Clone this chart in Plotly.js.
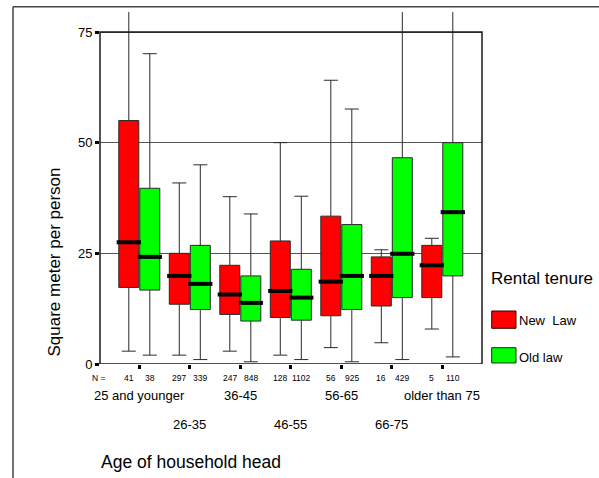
<!DOCTYPE html>
<html>
<head>
<meta charset="utf-8">
<script src="https://cdn.plot.ly/plotly-3.0.1.min.js"></script>
<style>
html,body{margin:0;padding:0;background:#fff;}
#chart{width:599px;height:478px;}
</style>
</head>
<body>
<div id="chart"></div>
<script>
// ---- data ----
const categories = ['25 and younger','26-35','36-45','46-55','56-65','66-75','older than 75'];
const nNew = [41, 297, 247, 128, 56, 16, 5];
const nOld = [38, 339, 848, 1102, 925, 429, 110];

const newQ1     = [17.3, 13.5, 11.2, 10.5, 10.9, 13.1, 15.0];
const newMedian = [27.5, 19.9, 15.7, 16.5, 18.6, 19.9, 22.3];
const newQ3     = [55.0, 25.0, 22.3, 27.8, 33.4, 24.2, 26.8];
const newLower  = [2.9, 2.0, 2.9, 2.0, 3.7, 4.8, 7.9];
const newUpper  = [85, 40.9, 37.8, 50.0, 64.1, 25.8, 28.4];

const oldQ1     = [16.7, 12.3, 9.7, 9.9, 12.3, 15.0, 19.9];
const oldMedian = [24.2, 18.1, 13.8, 15.0, 19.9, 24.9, 34.3];
const oldQ3     = [39.7, 26.8, 19.9, 21.4, 31.5, 46.6, 50.0];
const oldLower  = [2.0, 1.0, 0.5, 1.0, 0.5, 1.0, 1.6];
const oldUpper  = [70.1, 45.0, 33.9, 37.9, 57.6, 85, 85];

const yTicks = [0, 25, 50, 75];

// ---- layout helpers ----
const FONT = 'Liberation Sans, Arial, sans-serif';
const idx = categories.map((c, i) => i);
const OFF = 0.208, BW = 0.396, MHW = 0.24;
const xNew = idx.map(i => i - OFF);
const xOld = idx.map(i => i + OFF);

function boxTrace(name, xs, q1, med, q3, lo, hi, fill) {
  return {
    type: 'box', name: name, x: xs, q1: q1, median: med, q3: q3,
    lowerfence: lo, upperfence: hi, width: BW, whiskerwidth: 0.7,
    fillcolor: fill, line: {color: '#2a2a2a', width: 1},
    boxpoints: false, hoverinfo: 'skip', showlegend: false
  };
}
function medianTrace(xs, med) {
  const x = [], y = [];
  xs.forEach((xv, i) => { x.push(xv - MHW, xv + MHW, null); y.push(med[i], med[i], null); });
  return {type: 'scatter', mode: 'lines', x: x, y: y, line: {color: '#000', width: 4},
          hoverinfo: 'skip', showlegend: false};
}

const traces = [
  boxTrace('New  Law', xNew, newQ1, newMedian, newQ3, newLower, newUpper, '#ff0000'),
  boxTrace('Old law', xOld, oldQ1, oldMedian, oldQ3, oldLower, oldUpper, '#00ff00'),
  medianTrace(xNew, newMedian),
  medianTrace(xOld, oldMedian)
];

const annotations = [];
// N row
annotations.push({x: -0.002, xref: 'paper', y: -0.0406, yref: 'paper', text: 'N =',
  showarrow: false, xanchor: 'center', yanchor: 'middle', font: {family: FONT, size: 8.5, color: '#000'}});
idx.forEach(i => {
  annotations.push({x: xNew[i], xref: 'x', y: -0.0406, yref: 'paper', text: String(nNew[i]),
    showarrow: false, xanchor: 'center', yanchor: 'middle', font: {family: FONT, size: 8.5, color: '#000'}});
  annotations.push({x: xOld[i], xref: 'x', y: -0.0406, yref: 'paper', text: String(nOld[i]),
    showarrow: false, xanchor: 'center', yanchor: 'middle', font: {family: FONT, size: 8.5, color: '#000'}});
});
// staggered category labels
categories.forEach((c, i) => {
  annotations.push({x: i, xref: 'x', y: (i % 2 === 0) ? -0.0909 : -0.1705, yref: 'paper', text: c,
    showarrow: false, xanchor: 'center', yanchor: 'middle', font: {family: FONT, size: 13, color: '#000'}});
});
// axis titles
annotations.push({x: 0.238, xref: 'paper', y: -0.2776, yref: 'paper', text: 'Age of household head',
  showarrow: false, xanchor: 'center', yanchor: 'middle', font: {family: FONT, size: 17.5, color: '#000'}});
annotations.push({x: -0.1191, xref: 'paper', y: 0.2898, yref: 'paper', text: 'Square meter per person',
  textangle: -90, showarrow: false, xanchor: 'center', yanchor: 'middle', font: {family: FONT, size: 17, color: '#000'}});
// legend
annotations.push({x: 1.0183, xref: 'paper', y: 0.2443, yref: 'paper', text: 'Rental tenure',
  showarrow: false, xanchor: 'left', yanchor: 'middle', font: {family: FONT, size: 17, color: '#000'}});
annotations.push({x: 1.0976, xref: 'paper', y: 0.1222, yref: 'paper', text: 'New  Law',
  showarrow: false, xanchor: 'left', yanchor: 'middle', xshift: -2, font: {family: FONT, size: 13, color: '#000'}});
annotations.push({x: 1.0976, xref: 'paper', y: 0.019, yref: 'paper', text: 'Old law',
  showarrow: false, xanchor: 'left', yanchor: 'middle', xshift: -2, font: {family: FONT, size: 13, color: '#000'}});

const shapes = [
  // plot frame 0..75
  {type: 'rect', xref: 'paper', x0: 0, x1: 1, yref: 'y', y0: 0, y1: 75,
   line: {color: '#1a1a1a', width: 1.5}, layer: 'above'},
  // outer frame (top and left)
  {type: 'line', xref: 'paper', yref: 'paper', x0: -0.2277, x1: -0.2277, y0: -0.33, y1: 1.015,
   line: {color: '#444', width: 1.5}},
  {type: 'line', xref: 'paper', yref: 'paper', x0: -0.2277, x1: 1.31, y0: 1.015, y1: 1.015,
   line: {color: '#444', width: 1.5}},
  // legend swatches
  {type: 'rect', xref: 'paper', yref: 'paper', x0: 1.0254, x1: 1.0890, y0: 0.1014, y1: 0.1506,
   fillcolor: '#ff0000', line: {color: '#3a0000', width: 1}},
  {type: 'rect', xref: 'paper', yref: 'paper', x0: 1.0254, x1: 1.0890, y0: 0.0030, y1: 0.0463,
   fillcolor: '#00ff00', line: {color: '#003a00', width: 1}}
];

const layout = {
  width: 599, height: 478,
  margin: {l: 100, r: 117, t: 12, b: 114, pad: 0},
  paper_bgcolor: '#fff', plot_bgcolor: '#fff',
  font: {family: FONT, color: '#000'},
  showlegend: false,
  boxmode: 'overlay',
  xaxis: {
    range: [-0.778, 6.786], tickvals: idx, showticklabels: false,
    ticks: 'outside', ticklen: 4, tickwidth: 3, tickcolor: '#000',
    showgrid: false, zeroline: false, showline: false, fixedrange: true
  },
  yaxis: {
    range: [0, 79.52], tickvals: yTicks, ticktext: yTicks.map(String),
    ticks: 'outside', ticklen: 4, tickwidth: 3, tickcolor: '#000',
    tickfont: {family: FONT, size: 13, color: '#000'},
    showgrid: true, gridcolor: '#555', gridwidth: 1,
    zeroline: false, showline: false, fixedrange: true
  },
  annotations: annotations,
  shapes: shapes
};

Plotly.newPlot('chart', traces, layout, {staticPlot: true, displayModeBar: false});
</script>
</body>
</html>
